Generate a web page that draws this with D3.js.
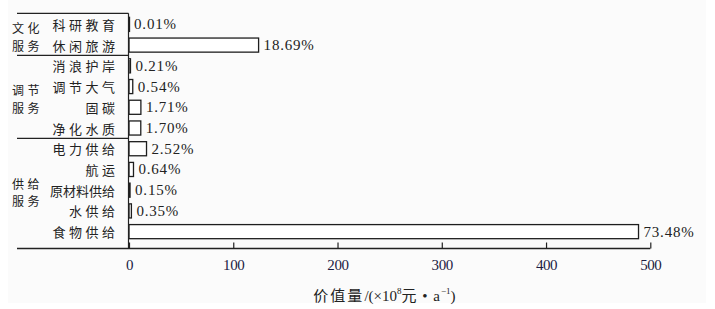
<!DOCTYPE html>
<html>
<head>
<meta charset="utf-8">
<script src="https://cdn.jsdelivr.net/npm/d3@7"></script>
<style>
  html, body { margin: 0; padding: 0; background: #fff; }
  svg { display: block; }
  .cat { font-family: 'Noto Sans CJK SC', sans-serif; font-size: 13px; fill: #222; }
  .grp { font-family: 'Noto Sans CJK SC', sans-serif; font-size: 12px; fill: #222; letter-spacing: 3.5px; }
  .pct { font-family: 'Liberation Serif', serif; font-size: 15px; fill: #222; letter-spacing: 0.8px; }
  .tick text { font-family: 'Liberation Serif', serif; font-size: 15px; fill: #1c1c44; letter-spacing: -0.4px; }
  .title { font-family: 'Liberation Serif', 'Noto Sans CJK SC', serif; font-size: 15px; fill: #222; }
</style>
</head>
<body>
<div id="chart"></div>
<script>
// categories, top to bottom
const categories = ['科研教育', '休闲旅游', '消浪护岸', '调节大气', '固碳', '净化水质',
  '电力供给', '航运', '原材料供给', '水供给', '食物供给'];
// value, 10^8 yuan per year
const values = [0.07, 124.3, 1.4, 3.6, 11.4, 11.3, 16.8, 4.3, 1.0, 2.3, 488.7];
const shares = ['0.01%', '18.69%', '0.21%', '0.54%', '1.71%', '1.70%',
  '2.52%', '0.64%', '0.15%', '0.35%', '73.48%'];
const groupNames = [['文化', '服务'], ['调节', '服务'], ['供给', '服务']];
const groupSizes = [2, 4, 5];
const xTicks = [0, 100, 200, 300, 400, 500];

const width = 715, height = 309;
const axisY = 248.5, frameLeft = 17;

const svg = d3.select('#chart').append('svg')
  .attr('width', width)
  .attr('height', height);

svg.append('rect')
  .attr('x', 8).attr('y', 0)
  .attr('width', 698).attr('height', 303)
  .attr('fill', '#fbfbfb');

const x = d3.scaleLinear().domain([0, 500]).range([129, 650.3]);
const y = d3.scaleBand().domain(categories).range([14, 242])
  .paddingInner(0.32).paddingOuter(0.16);
const mid = c => y(c) + y.bandwidth() / 2;

// bars
svg.append('g').selectAll('rect')
  .data(categories)
  .join('rect')
  .attr('x', x(0))
  .attr('y', d => y(d))
  .attr('width', (d, i) => Math.max(0.5, x(values[i]) - x(0)))
  .attr('height', y.bandwidth())
  .attr('fill', '#fff')
  .attr('stroke', '#1e1e1e')
  .attr('stroke-width', 1.3);

// percent labels
svg.append('g').selectAll('text')
  .data(categories)
  .join('text')
  .attr('class', 'pct')
  .attr('x', (d, i) => x(values[i]) + 5)
  .attr('y', d => mid(d))
  .attr('dominant-baseline', 'central')
  .text((d, i) => shares[i]);

// category labels (letter-spacing trails the last glyph, so shift x by it)
const spacing = d => d.length > 4 ? 0 : 3.5;
svg.append('g').selectAll('text')
  .data(categories)
  .join('text')
  .attr('class', 'cat')
  .attr('x', d => 115 + spacing(d))
  .attr('y', d => mid(d))
  .attr('text-anchor', 'end')
  .attr('dominant-baseline', 'central')
  .style('letter-spacing', d => spacing(d) + 'px')
  .text(d => d);

// x axis, ticks pointing up
const xAxis = svg.append('g')
  .attr('transform', `translate(0,${axisY})`)
  .call(d3.axisBottom(x).tickValues(xTicks).tickSize(-6).tickPadding(13));
xAxis.select('.domain').remove();
xAxis.selectAll('.tick line').attr('stroke', '#222').attr('stroke-width', 1.2);
xAxis.selectAll('.tick text').attr('dy', '0.55em');

svg.append('line')
  .attr('x1', frameLeft).attr('x2', x(500))
  .attr('y1', axisY).attr('y2', axisY)
  .attr('stroke', '#222').attr('stroke-width', 1.4);

// left frame: vertical axis, group separators, group names
svg.append('line')
  .attr('x1', 128.5).attr('x2', 128.5)
  .attr('y1', 13.3).attr('y2', axisY)
  .attr('stroke', '#222').attr('stroke-width', 1.2);

let start = 0;
const groupLayer = svg.append('g');
groupSizes.forEach((n, g) => {
  const first = categories[start], last = categories[start + n - 1];
  const top = start === 0 ? 13.3 : (mid(categories[start - 1]) + mid(first)) / 2;
  groupLayer.append('line')
    .attr('x1', frameLeft).attr('x2', 128.5)
    .attr('y1', top).attr('y2', top)
    .attr('stroke', '#222').attr('stroke-width', 1.2);
  const c = (mid(first) + mid(last)) / 2;
  groupNames[g].forEach((t, k) => {
    groupLayer.append('text')
      .attr('class', 'grp')
      .attr('x', 12)
      .attr('y', c - 7 + k * 17.6)
      .attr('dominant-baseline', 'central')
      .text(t);
  });
  start += n;
});

// axis title
const title = svg.append('text')
  .attr('class', 'title')
  .attr('x', x(245))
  .attr('y', 296)
  .attr('text-anchor', 'middle')
  .attr('dominant-baseline', 'central');
title.append('tspan').style('letter-spacing', '2px').text('价值量');
title.append('tspan').text('/(×10');
title.append('tspan').attr('dy', -5).style('font-size', '9px').text('8');
title.append('tspan').attr('dy', 5).style('letter-spacing', '1px').text('元 • a');
title.append('tspan').attr('dy', -5).style('font-size', '9px').text('−1');
title.append('tspan').attr('dy', 5).text(')');
</script>
</body>
</html>
